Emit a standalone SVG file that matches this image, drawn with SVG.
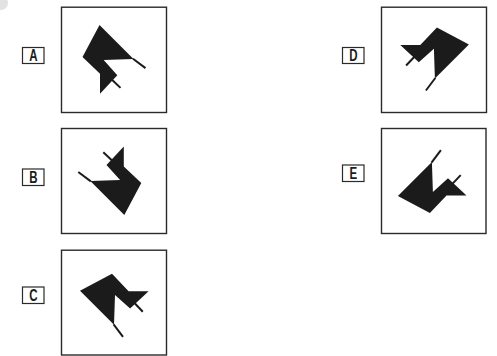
<svg xmlns="http://www.w3.org/2000/svg" xmlns:xlink="http://www.w3.org/1999/xlink" width="497" height="356" viewBox="0 0 497 356">
<style>
.panel{fill:#fff;stroke:#2a2a2a;stroke-width:1.4}
.lab{fill:#fff;stroke:#2a2a2a;stroke-width:1.2}
.lt{font-family:"Liberation Sans",Arial,sans-serif;font-weight:bold;font-size:16px;fill:#1b1b1b;text-anchor:middle}
.sh{fill:#1b1b1b}
.ln{stroke:#1b1b1b;stroke-width:2;fill:none}
</style>
<defs>
<g id="fig">
<path class="sh" d="M0,0 L17.3,-18.5 L3.7,-33.6 L33.5,-34.6 L-0.5,-68.6 L-17.5,-36.6 L0,-20 Z"/>
<line class="ln" x1="33" y1="-35" x2="45.5" y2="-25.6"/>
<line class="ln" x1="12" y1="-13.9" x2="20.5" y2="-5.8"/>
</g>
</defs>
<rect width="497" height="356" fill="#fff"/>
<circle cx="1" cy="3" r="7" fill="#e2e2e2"/>
<g id="A">
<rect class="panel" x="61.5" y="7.2" width="105" height="105.3"/>
<rect class="lab" x="22.5" y="47.5" width="21.5" height="16"/>
<text class="lt" transform="translate(33.3,61.3) scale(0.72,1)">A</text>
<use xlink:href="#fig" transform="matrix(1,0,0,1,100,93.7)"/>
</g>
<g id="B">
<rect class="panel" x="61.5" y="128.5" width="105" height="105"/>
<rect class="lab" x="22.5" y="169" width="21.5" height="16.5"/>
<text class="lt" transform="translate(33.3,183) scale(0.72,1)">B</text>
<use xlink:href="#fig" transform="matrix(-1,0,0,-1,123.8,146.4)"/>
</g>
<g id="C">
<rect class="panel" x="61.5" y="250.2" width="105" height="104.8"/>
<rect class="lab" x="22.5" y="287" width="21.5" height="16.5"/>
<text class="lt" transform="translate(33.3,301) scale(0.72,1)">C</text>
<use xlink:href="#fig" transform="matrix(0,1,1,0,148.6,291.3)"/>
</g>
<g id="D">
<rect class="panel" x="381.5" y="7.2" width="105" height="105.3"/>
<rect class="lab" x="342.5" y="47.5" width="21.5" height="16"/>
<text class="lt" transform="translate(353.3,61.3) scale(0.72,1)">D</text>
<use xlink:href="#fig" transform="matrix(0,1,-1,0,400.3,45)"/>
</g>
<g id="E">
<rect class="panel" x="381.5" y="128.5" width="104.5" height="105"/>
<rect class="lab" x="342.5" y="165" width="21.5" height="16.5"/>
<text class="lt" transform="translate(353.3,179) scale(0.72,1)">E</text>
<use xlink:href="#fig" transform="matrix(0,-1,1,0,466.5,195.6)"/>
</g>
</svg>
